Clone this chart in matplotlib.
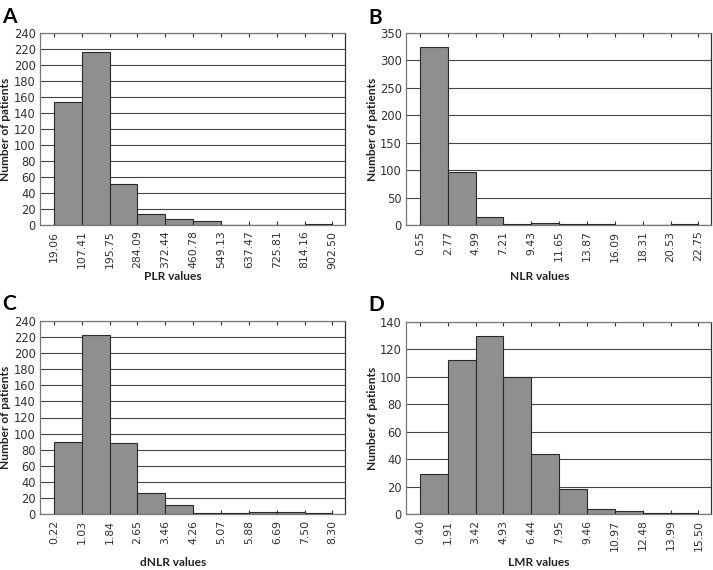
import matplotlib
matplotlib.use("Agg")
import matplotlib.pyplot as plt
import numpy as np

# ---- data ----
plr_edges = ["19.06", "107.41", "195.75", "284.09", "372.44", "460.78",
             "549.13", "637.47", "725.81", "814.16", "902.50"]
plr_counts = [154, 216, 51, 14, 7, 5, 0, 0, 0, 1]

nlr_edges = ["0.55", "2.77", "4.99", "7.21", "9.43", "11.65",
             "13.87", "16.09", "18.31", "20.53", "22.75"]
nlr_counts = [325, 97, 15, 1, 3, 1, 1, 0, 0, 1]

dnlr_edges = ["0.22", "1.03", "1.84", "2.65", "3.46", "4.26",
              "5.07", "5.88", "6.69", "7.50", "8.30"]
dnlr_counts = [89, 222, 88, 26, 11, 1, 1, 2, 2, 1]

lmr_edges = ["0.40", "1.91", "3.42", "4.93", "6.44", "7.95",
             "9.46", "10.97", "12.48", "13.99", "15.50"]
lmr_counts = [29, 112, 130, 100, 44, 18, 4, 2, 1, 1]

panels = [
    ("A", plr_edges, plr_counts, "PLR values", 240, 20),
    ("B", nlr_edges, nlr_counts, "NLR values", 350, 50),
    ("C", dnlr_edges, dnlr_counts, "dNLR values", 240, 20),
    ("D", lmr_edges, lmr_counts, "LMR values", 140, 20),
]

W, H = 713, 570
fig = plt.figure(figsize=(W / 100, H / 100), dpi=100)

# axes boxes in pixels: left, top, right, bottom
boxes = [
    (40, 33, 345, 225),
    (406, 33, 711, 225),
    (40, 321, 345, 514),
    (406, 322, 711, 514),
]
letter_pos = [(2, 17), (368, 18), (2, 304), (368, 305)]
ylabel_x = [6, 372, 6, 372]
xlabel_pos = [(173, 277), (540, 277), (173, 562), (539, 562)]

label_font = "Lato"
for (letter, edges, counts, xlabel, ymax, ystep), (l, t, r, b), lp, ylx, xlp in zip(
        panels, boxes, letter_pos, ylabel_x, xlabel_pos):
    ax = fig.add_axes([l / W, 1 - b / H, (r - l) / W, (b - t) / H])
    n = len(counts)
    ax.bar(np.arange(n) + 0.5, counts, width=1.0, align="center",
           color="#8f8f8f", edgecolor="#2a2a2a", linewidth=0.8, zorder=3)
    ax.set_xlim(-0.5, n + 0.45)
    ax.set_ylim(0, ymax)
    ax.set_yticks(np.arange(0, ymax + 1, ystep))
    ax.set_xticks(np.arange(n + 1))
    ax.set_xticklabels(edges, rotation=90, fontsize=7.8, color="#333333",
                       family="DejaVu Sans")
    for lab in ax.get_yticklabels():
        lab.set_fontsize(8.3)
        lab.set_color("#333333")
    ax.grid(axis="y", color="#444444", linewidth=0.8, zorder=1)
    ax.tick_params(axis="y", length=0, pad=3)
    ax.tick_params(axis="x", direction="in", length=3, top=True,
                   color="#333333", width=0.8, pad=4)
    for s in ax.spines.values():
        s.set_color("#777777")
        s.set_linewidth(0.9)
    ax.spines["right"].set_color("#333333")
    fig.text(lp[0] / W, 1 - lp[1] / H, letter, fontsize=15, fontweight="bold",
             family=label_font, ha="left", va="center", color="black")
    fig.text(ylx / W, 1 - ((t + b) / 2) / H, "Number of patients", rotation=90,
             fontsize=8.6, family=label_font, fontweight="bold", ha="center",
             va="center", color="#222222")
    fig.text(xlp[0] / W, 1 - xlp[1] / H, xlabel, fontsize=8.6,
             family=label_font, fontweight="bold", ha="center", va="center",
             color="#222222")

fig.savefig("out.png", dpi=100)
